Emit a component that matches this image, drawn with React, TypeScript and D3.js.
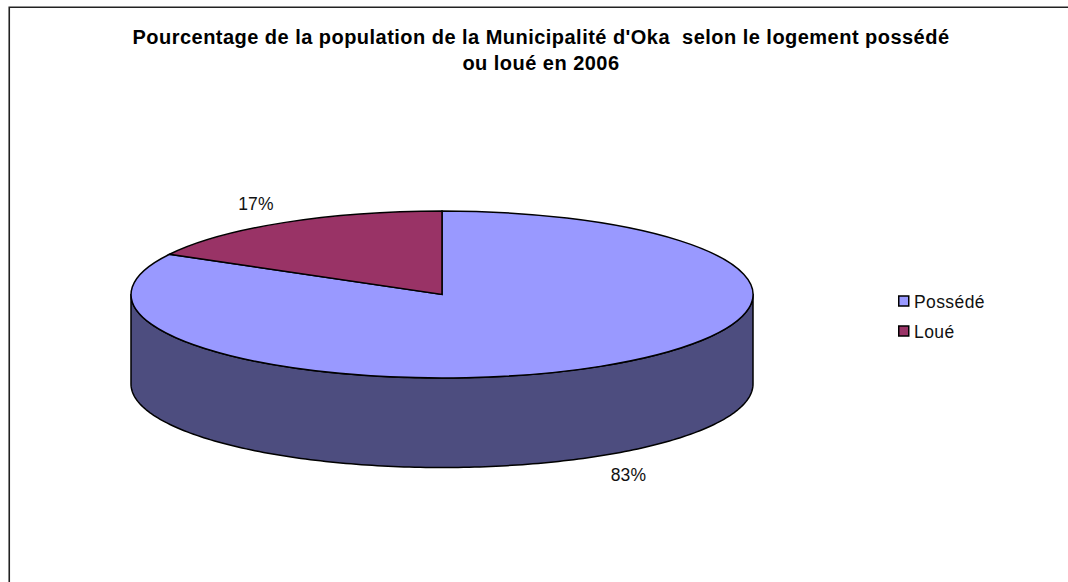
import React from 'react'
import * as d3 from 'd3'

const categories = ['Possédé', 'Loué']
const values = [83, 17]
const titleLines = [
  "Pourcentage de la population de la Municipalité d'Oka  selon le logement possédé",
  'ou loué en 2006',
]
const topColors = ['#9999ff', '#993366']
const wallColor = '#4d4d7f'

const W = 1068
const H = 582
const FONT = "'Liberation Sans', Arial, sans-serif"

// ellipse of the pie top
const cx = 442
const cy = 294.5
const rx = 311
const ry = 83.5
const depth = 89.5

export default function App() {
  const slices = d3.pie<number>().sort(null).startAngle(0).endAngle(2 * Math.PI)(values)
  const arc = d3.arc<d3.PieArcDatum<number>>().innerRadius(0).outerRadius(1)

  // scales that squash the unit circle into the ellipse
  const sx = d3.scaleLinear().domain([-1, 1]).range([cx - rx, cx + rx])
  const sy = d3.scaleLinear().domain([-1, 1]).range([cy - ry, cy + ry])

  // front wall: lower half of the top rim, then back along the lower half of the bottom rim
  const angles = d3.range(0, 181).map((d) => (d * Math.PI) / 180)
  const rim = d3.line<number>()
    .x((a) => sx(Math.cos(a)))
    .y((a) => sy(Math.sin(a)))
  const rimDown = d3.line<number>()
    .x((a) => sx(Math.cos(a)))
    .y((a) => sy(Math.sin(a)) + depth)
  const wall = rim(angles) + 'L' + (rimDown([...angles].reverse()) as string).slice(1) + 'Z'

  const legendY = d3.scalePoint<string>().domain(categories).range([301, 331])

  return (
    <svg
      width={W}
      height={H}
      style={{ position: 'absolute', left: 0, top: 0, background: '#fff' }}
      fontFamily={FONT}
    >
      {/* frame runs off the page on the right and bottom */}
      <path d={`M9.25 ${H}V7.25H${W}`} fill="none" stroke="#222" strokeWidth={1.6} />

      {titleLines.map((t, i) => (
        <text
          key={i}
          x={541}
          y={44 + i * 26}
          textAnchor="middle"
          fontSize={20}
          fontWeight="bold"
          letterSpacing={0.47}
          fill="#000"
          xmlSpace="preserve"
        >
          {t}
        </text>
      ))}

      <path d={wall} fill={wallColor} stroke="#000" strokeWidth={1.5} strokeLinejoin="round" />

      <g transform={`translate(${cx},${cy}) scale(${rx},${ry})`}>
        {slices.map((s, i) => (
          <path
            key={i}
            d={arc(s) as string}
            fill={topColors[i]}
            stroke="#000"
            strokeWidth={1.5}
            vectorEffect="non-scaling-stroke"
          />
        ))}
      </g>

      <text x={256} y={210} textAnchor="middle" fontSize={17.5} letterSpacing={0.2} fill="#111">{values[1]}%</text>
      <text x={628.5} y={481} textAnchor="middle" fontSize={17.5} letterSpacing={0.2} fill="#111">{values[0]}%</text>

      {categories.map((c, i) => (
        <g key={c}>
          <rect x={898.75} y={legendY(c)! - 5} width={10} height={10} fill={topColors[i]} stroke="#000" strokeWidth={1.5} />
          <text x={914} y={legendY(c)! + 7} fontSize={17.5} letterSpacing={0.4} fill="#111">{c}</text>
        </g>
      ))}
    </svg>
  )
}
